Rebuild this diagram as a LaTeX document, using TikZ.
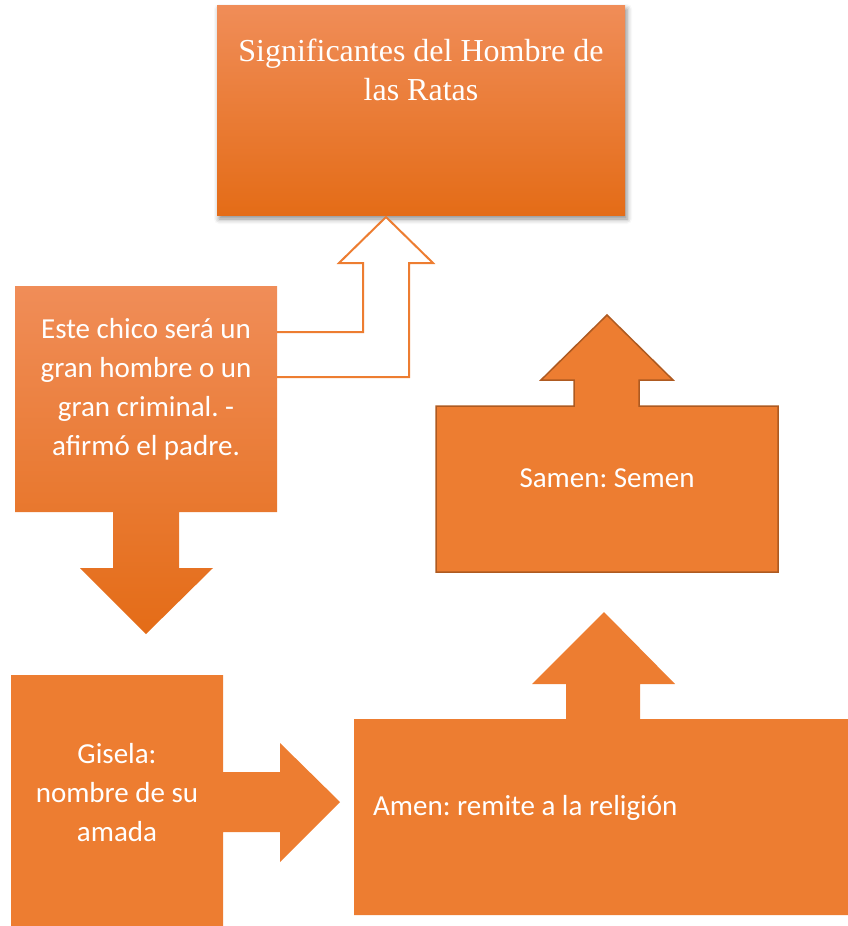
\documentclass[tikz,border=0pt]{standalone}
\usepackage{fontspec}
\setmainfont{Carlito}
\newfontfamily\serifrm{Liberation Serif}
\usepackage{tikz}
\usetikzlibrary{shadows.blur}
\frenchspacing

\definecolor{accent}{HTML}{ED7D31}
\definecolor{accentdark}{HTML}{AE5A21}
\definecolor{gradtop}{HTML}{F08D58}
\definecolor{gradmid}{HTML}{F5822E}
\definecolor{gradbot}{HTML}{E46C17}

\tikzset{
  grad/.style={top color=gradtop, middle color=gradmid, bottom color=gradbot},
  boxtext/.style={text=white, font=\fontsize{29}{39}\selectfont, align=center, inner sep=0pt}
}

\begin{document}
\begin{tikzpicture}[x=1pt,y=-1pt]
\useasboundingbox (0,0) rectangle (848,926);

% titulo
\shade[grad, blur shadow={shadow xshift=2pt,shadow yshift=-4pt,shadow blur radius=5pt,shadow opacity=45}] (217,5) rectangle (625,215);
\node[boxtext, font=\serifrm\fontsize{32}{39}\selectfont] (titulo) at (421,70) {Significantes del Hombre de\\las Ratas};

% flecha hueca
\draw[accent, line width=2pt, fill=white] (277,332) -- (363,332) -- (363,263) -- (339,263) -- (386,217) -- (433,263) -- (409,263) -- (409,377) -- (277,377);

% padre
\shade[grad] (15,286) -- (277,286) -- (277,512) -- (179,512) -- (179,568) -- (213,568) -- (146,634) -- (80,568) -- (113,568) -- (113,512) -- (15,512) -- cycle;
\node[boxtext] (padre) at (146,389) {Este chico será un\\gran hombre o un\\gran criminal. -\\afirmó el padre.};

% samen
\filldraw[fill=accent, draw=accentdark, line width=1.5pt] (436,406) -- (574,406) -- (574,380) -- (541,380) -- (607,315) -- (673,380) -- (639,380) -- (639,406) -- (778,406) -- (778,572) -- (436,572) -- cycle;
\node[boxtext, anchor=base] (samen) at (607,487) {Samen: Semen};

% amen
\fill[accent] (354,719) -- (566,719) -- (566,684) -- (532,684) -- (604,612) -- (675,684) -- (640,684) -- (640,719) -- (848,719) -- (848,915) -- (354,915) -- cycle;
\node[boxtext, anchor=base west] (amen) at (373,815) {Amen: remite a la religión};

% gisela
\fill[accent] (11,675) -- (223,675) -- (223,772) -- (280,772) -- (280,743) -- (340,802) -- (280,862) -- (280,832) -- (223,832) -- (223,926) -- (11,926) -- cycle;
\node[boxtext] (gisela) at (117,793) {Gisela:\\nombre de su\\amada};

\end{tikzpicture}
\end{document}
